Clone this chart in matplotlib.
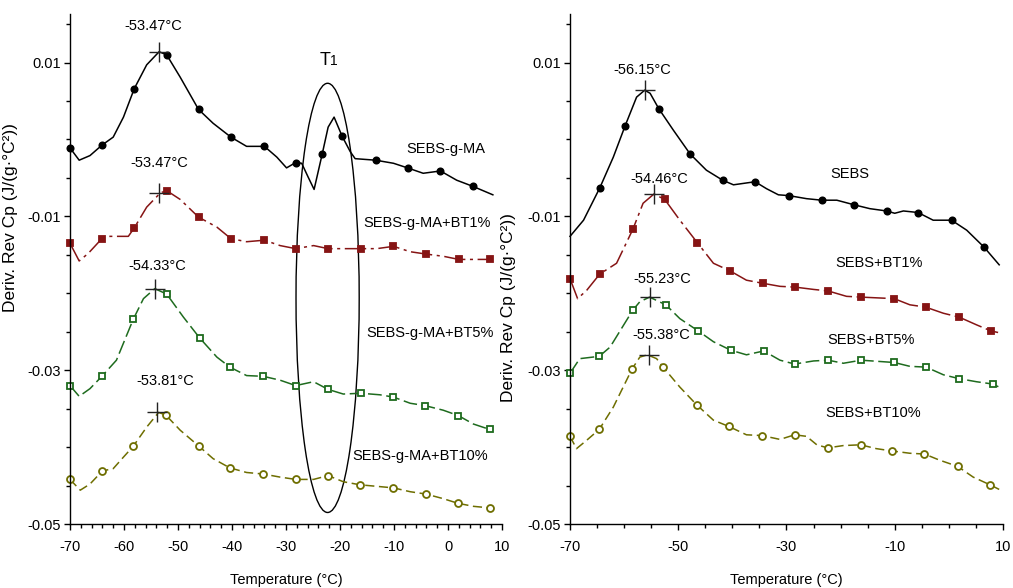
import matplotlib
matplotlib.use("Agg")
import matplotlib.pyplot as plt
from matplotlib.patches import Ellipse
from matplotlib.ticker import MultipleLocator, FixedLocator

plt.rcParams['font.family'] = ['Liberation Sans', 'DejaVu Sans']
plt.rcParams['axes.unicode_minus'] = False

# --- data: left panel (SEBS-g-MA series) ---
L_T_MA = [-70, -68.3, -66.3, -64.1, -62.0, -60.1, -58.1, -55.8, -53.5, -52.1, -49.6, -46.2, -43.5, -40.2,
          -37.3, -34.0, -31.7, -29.9, -28.2, -27.1, -25.9, -24.8, -23.3, -22.2, -21.1, -19.6, -18.1, -17.2,
          -13.4, -10.1, -7.5, -4.6, -1.4, 1.6, 4.6, 8.3]
L_MA = [-0.0011, -0.0027, -0.0021, -0.00075, 0.0003, 0.0029, 0.0066, 0.0097, 0.0114, 0.0110, 0.0081, 0.0039,
        0.0021, 0.0003, -0.0009, -0.0009, -0.0023, -0.0037, -0.0030, -0.0031, -0.0049, -0.0065, -0.0019,
        0.0016, 0.0029, 0.0004, -0.0016, -0.0025, -0.0027, -0.0031, -0.0037, -0.0044, -0.0041, -0.0053,
        -0.0061, -0.0072]
L_MA_MK = [0, 3, 6, 9, 11, 13, 15, 18, 22, 25, 28, 30, 32, 34]

L_T_BT1 = [-70, -68.3, -66.6, -64.1, -62.6, -59.2, -58.1, -55.8, -53.2, -52.0, -49.6, -46.2, -42.8, -40.2,
           -37.3, -34.0, -31.1, -28.2, -24.9, -22.2, -16.1, -13.2, -10.1, -7.0, -4.1, -0.8, 2.0, 7.7]
L_BT1 = [-0.0135, -0.0158, -0.0148, -0.0129, -0.0126, -0.0126, -0.0115, -0.0088, -0.0069, -0.0067, -0.0078,
         -0.0101, -0.0114, -0.0129, -0.0133, -0.0131, -0.0138, -0.0142, -0.0138, -0.0142, -0.0142, -0.0142,
         -0.0139, -0.0146, -0.0149, -0.0152, -0.0156, -0.0156]
L_BT1_MK = [0, 3, 6, 9, 11, 13, 15, 17, 19, 20, 22, 24, 26, 27]

L_T_BT5 = [-70, -68.3, -66.3, -64.1, -61.4, -58.3, -56.4, -54.3, -52.1, -49.0, -46.0, -42.8, -40.4, -37.3,
           -34.2, -31.1, -28.2, -24.9, -22.2, -19.4, -16.1, -12.6, -10.1, -7.0, -4.3, -0.9, 1.9, 4.7, 7.7]
L_BT5 = [-0.0320, -0.0334, -0.0324, -0.0308, -0.0287, -0.0234, -0.0207, -0.0194, -0.0201, -0.0231, -0.0258,
         -0.0283, -0.0296, -0.0307, -0.0308, -0.0313, -0.0320, -0.0315, -0.0325, -0.0331, -0.0330, -0.0332,
         -0.0335, -0.0343, -0.0346, -0.0352, -0.0359, -0.0370, -0.0377]
L_BT5_MK = [0, 3, 5, 8, 10, 12, 14, 16, 18, 20, 22, 24, 26, 28]

L_T_BT10 = [-70, -68.1, -66.3, -64.0, -62.0, -60.1, -58.3, -55.8, -53.6, -52.3, -49.6, -46.1, -43.5, -40.4,
            -37.3, -34.2, -31.1, -28.2, -24.9, -22.2, -19.4, -16.3, -13.2, -10.1, -7.0, -4.1, -0.9, 1.8, 4.7, 7.7]
L_BT10 = [-0.0442, -0.0456, -0.0448, -0.0431, -0.0428, -0.0413, -0.0399, -0.0374, -0.0355, -0.0358, -0.0378,
          -0.0399, -0.0415, -0.0427, -0.0433, -0.0435, -0.0439, -0.0442, -0.0442, -0.0437, -0.0445, -0.0449,
          -0.0451, -0.0453, -0.0458, -0.0461, -0.0467, -0.0473, -0.0477, -0.0479]
L_BT10_MK = [0, 3, 6, 9, 11, 13, 15, 17, 19, 21, 23, 25, 27, 29]

L_PEAK_T = [-53.47, -53.47, -54.33, -53.81]
L_PEAK_Y = [0.0114, -0.0069, -0.0194, -0.0355]
L_NAMES = ["SEBS-g-MA", "SEBS-g-MA+BT1%", "SEBS-g-MA+BT5%", "SEBS-g-MA+BT10%"]

# --- data: right panel (SEBS series) ---
R_T_SEBS = [-70, -67.5, -64.5, -62.0, -59.8, -57.7, -56.2, -55.2, -53.6, -50.9, -47.8, -44.8, -41.8, -39.8,
            -35.8, -33.7, -31.5, -29.6, -26.3, -23.5, -20.7, -17.5, -14.6, -11.5, -10.0, -8.4, -5.7, -2.9,
            0.5, 3.3, 6.5, 9.3]
R_SEBS = [-0.0126, -0.0105, -0.0063, -0.0023, 0.0018, 0.0055, 0.0064, 0.0060, 0.0040, 0.0012, -0.0019,
          -0.0040, -0.0053, -0.0059, -0.0055, -0.0064, -0.0072, -0.0073, -0.0077, -0.0079, -0.0079, -0.0085,
          -0.0090, -0.0093, -0.0096, -0.0093, -0.0095, -0.0105, -0.0105, -0.0118, -0.0140, -0.0163]
R_SEBS_MK = [2, 4, 8, 10, 12, 14, 17, 19, 21, 23, 26, 28, 30]

R_T_BT1 = [-70, -68.6, -66.9, -64.5, -61.4, -58.4, -56.5, -54.5, -52.5, -49.7, -46.5, -43.5, -40.4, -37.4,
           -34.4, -31.2, -28.4, -25.0, -22.3, -18.9, -16.2, -10.1, -7.2, -4.3, -1.0, 1.9, 5.1, 7.8, 9.1]
R_BT1 = [-0.0181, -0.0207, -0.0196, -0.0175, -0.0161, -0.0117, -0.0083, -0.0071, -0.0078, -0.0105, -0.0134,
         -0.0161, -0.0171, -0.0183, -0.0187, -0.0191, -0.0192, -0.0195, -0.0197, -0.0204, -0.0205, -0.0207,
         -0.0215, -0.0218, -0.0226, -0.0231, -0.0241, -0.0249, -0.0251]
R_BT1_MK = [0, 3, 5, 8, 10, 12, 14, 16, 18, 20, 21, 23, 25, 27]

R_T_BT5 = [-70, -68.2, -64.6, -62.6, -58.4, -57.1, -55.3, -52.3, -49.7, -46.3, -43.5, -40.3, -37.4, -34.2,
           -31.2, -28.5, -25.0, -22.3, -19.5, -16.2, -10.1, -7.2, -4.2, -1.0, 1.9, 5.1, 8.1, 9.3]
R_BT5 = [-0.0304, -0.0285, -0.0282, -0.0270, -0.0222, -0.0211, -0.0205, -0.0215, -0.0233, -0.0249, -0.0263,
         -0.0274, -0.0280, -0.0275, -0.0287, -0.0292, -0.0288, -0.0287, -0.0291, -0.0287, -0.0290, -0.0295,
         -0.0296, -0.0306, -0.0311, -0.0315, -0.0318, -0.0322]
R_BT5_MK = [0, 2, 4, 7, 9, 11, 13, 15, 17, 19, 20, 22, 24, 26]

R_T_BT10 = [-70, -68.8, -66.9, -64.6, -62.0, -58.5, -57.1, -55.7, -54.0, -52.8, -49.7, -46.6, -43.5, -40.7,
            -37.4, -34.5, -31.2, -28.5, -26.3, -24.4, -22.4, -19.5, -16.3, -13.4, -10.5, -7.2, -4.5, -1.7,
            1.6, 4.5, 7.6, 9.3]
R_BT10 = [-0.0386, -0.0402, -0.0391, -0.0377, -0.0348, -0.0298, -0.0283, -0.0280, -0.0285, -0.0296, -0.0322,
          -0.0345, -0.0365, -0.0373, -0.0384, -0.0385, -0.0390, -0.0384, -0.0386, -0.0397, -0.0401, -0.0398,
          -0.0397, -0.0402, -0.0405, -0.0408, -0.0409, -0.0417, -0.0425, -0.0439, -0.0449, -0.0455]
R_BT10_MK = [0, 3, 5, 9, 11, 13, 15, 17, 20, 22, 24, 26, 28, 30]

R_PEAK_T = [-56.15, -54.46, -55.23, -55.38]
R_PEAK_Y = [0.0064, -0.0071, -0.0205, -0.0280]
R_NAMES = ["SEBS", "SEBS+BT1%", "SEBS+BT5%", "SEBS+BT10%"]

Y_TICKS = [0.01, -0.01, -0.03, -0.05]
Y_TICKLABELS = ["0.01", "-0.01", "-0.03", "-0.05"]

# --- styles ---
BLACK = "#000000"
RED = "#861414"
GREEN = "#1e6b1e"
OLIVE = "#6e6e00"
FS = 10.5


def draw_series(ax, t, y, mk, color, ls, marker, face, ms):
    ax.plot(t, y, color=color, lw=1.1, linestyle=ls, marker=marker, markevery=mk,
            markersize=ms, markerfacecolor=face, markeredgecolor=color, markeredgewidth=1.3)


def style_axes(ax, xmajor, xminor):
    ax.set_xlim(-70, 10)
    ax.set_ylim(-0.05, 0.0163)
    for s in ("top", "right"):
        ax.spines[s].set_visible(False)
    ax.spines["left"].set_linewidth(1.0)
    ax.spines["bottom"].set_linewidth(1.0)
    ax.xaxis.set_major_locator(FixedLocator(xmajor))
    ax.xaxis.set_minor_locator(MultipleLocator(xminor))
    ax.yaxis.set_major_locator(FixedLocator(Y_TICKS))
    ax.set_yticklabels(Y_TICKLABELS)
    ax.yaxis.set_minor_locator(MultipleLocator(0.005))
    ax.tick_params(which="major", direction="out", length=4.5, width=1, labelsize=FS)
    ax.tick_params(axis="x", which="major", pad=7)
    ax.tick_params(axis="y", which="major", pad=2)
    ax.tick_params(which="minor", direction="out", length=3, width=1)
    ax.set_xlabel("Temperature (°C)", fontsize=FS, labelpad=14)
    ax.set_ylabel("Deriv. Rev Cp (J/(g·°C²))", fontsize=12.5)


fig = plt.figure(figsize=(10.13, 5.88), dpi=100)
axL = fig.add_axes([0.0691, 0.1088, 0.4265, 0.8673])
axR = fig.add_axes([0.5627, 0.1088, 0.4274, 0.8673])

# left panel
draw_series(axL, L_T_MA, L_MA, L_MA_MK, BLACK, "-", "o", BLACK, 4.5)
draw_series(axL, L_T_BT1, L_BT1, L_BT1_MK, RED, (0, (14, 3, 2, 3)), "s", RED, 4.5)
draw_series(axL, L_T_BT5, L_BT5, L_BT5_MK, GREEN, (0, (9, 3)), "s", "white", 5)
draw_series(axL, L_T_BT10, L_BT10, L_BT10_MK, OLIVE, (0, (6, 3)), "o", "white", 5)
axL.plot(L_PEAK_T, L_PEAK_Y, linestyle="none", marker="+", markersize=15, color="#222222", mew=1.0)

axL.text(-54.6, 0.0147, "-53.47°C", fontsize=FS, ha="center", va="center")
axL.text(-53.5, -0.0031, "-53.47°C", fontsize=FS, ha="center", va="center")
axL.text(-53.9, -0.0164, "-54.33°C", fontsize=FS, ha="center", va="center")
axL.text(-52.4, -0.0314, "-53.81°C", fontsize=FS, ha="center", va="center")

axL.text(-0.4, -0.0012, L_NAMES[0], fontsize=FS, ha="center", va="center")
axL.text(-3.95, -0.0109, L_NAMES[1], fontsize=FS, ha="center", va="center")
axL.text(-3.3, -0.0252, L_NAMES[2], fontsize=FS, ha="center", va="center", clip_on=True)
axL.text(-5.1, -0.0412, L_NAMES[3], fontsize=FS, ha="center", va="center")

axL.add_patch(Ellipse((-22.3, -0.0206), 11.7, 0.0558, fill=False, edgecolor="black", lw=1.0))
axL.text(-21.8, 0.00965, "T", fontsize=13, ha="right", va="baseline")
axL.text(-21.8, 0.00965, "1", fontsize=10, ha="left", va="baseline")

style_axes(axL, list(range(-70, 11, 10)), 2)
axL.yaxis.set_label_coords(-0.12, 0.60)

# right panel
draw_series(axR, R_T_SEBS, R_SEBS, R_SEBS_MK, BLACK, "-", "o", BLACK, 4.5)
draw_series(axR, R_T_BT1, R_BT1, R_BT1_MK, RED, (0, (14, 3, 2, 3)), "s", RED, 4.5)
draw_series(axR, R_T_BT5, R_BT5, R_BT5_MK, GREEN, (0, (9, 3)), "s", "white", 5)
draw_series(axR, R_T_BT10, R_BT10, R_BT10_MK, OLIVE, (0, (6, 3)), "o", "white", 5)
axR.plot(R_PEAK_T, R_PEAK_Y, linestyle="none", marker="+", markersize=15, color="#222222", mew=1.0)

axR.text(-56.6, 0.0090, "-56.15°C", fontsize=FS, ha="center", va="center")
axR.text(-53.5, -0.0052, "-54.46°C", fontsize=FS, ha="center", va="center")
axR.text(-52.9, -0.0181, "-55.23°C", fontsize=FS, ha="center", va="center")
axR.text(-53.2, -0.0254, "-55.38°C", fontsize=FS, ha="center", va="center")

axR.text(-18.3, -0.0045, R_NAMES[0], fontsize=FS, ha="center", va="center")
axR.text(-12.9, -0.0161, R_NAMES[1], fontsize=FS, ha="center", va="center")
axR.text(-14.3, -0.0261, R_NAMES[2], fontsize=FS, ha="center", va="center")
axR.text(-14.0, -0.0356, R_NAMES[3], fontsize=FS, ha="center", va="center")

style_axes(axR, [-70, -50, -30, -10, 10], 5)
axR.yaxis.set_label_coords(-0.125, 0.424)

for ax in (axL, axR):
    for ln in ax.lines:
        ln.set_clip_on(False)

fig.savefig("out.png", dpi=100)
